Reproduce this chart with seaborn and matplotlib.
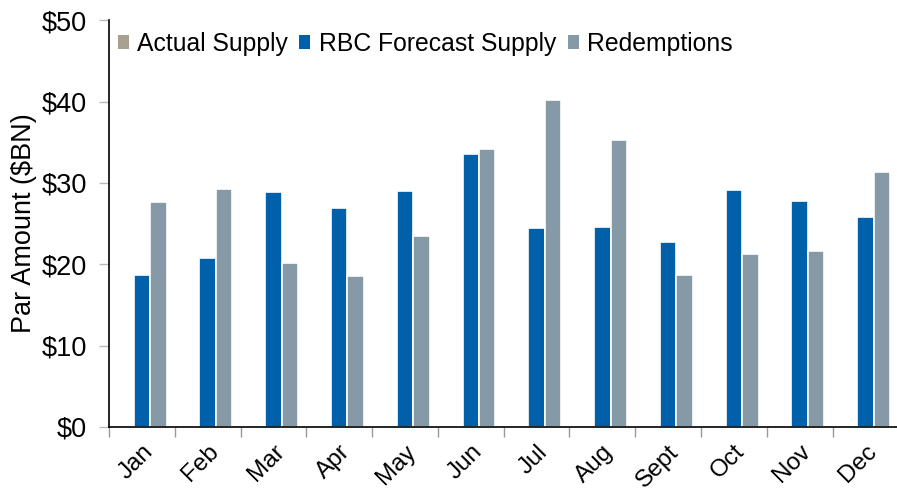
import numpy as np
import pandas as pd
import matplotlib
matplotlib.use("Agg")
import matplotlib.pyplot as plt
import matplotlib.transforms as mtransforms
from matplotlib.patches import Patch
import seaborn as sns

months = ['Jan', 'Feb', 'Mar', 'Apr', 'May', 'Jun', 'Jul', 'Aug', 'Sept', 'Oct', 'Nov', 'Dec']
actual_supply = [0, 0, 0, 0, 0, 0, 0, 0, 0, 0, 0, 0]
rbc_forecast = [18.7, 20.8, 28.9, 26.9, 29.0, 33.6, 24.4, 24.6, 22.7, 29.1, 27.8, 25.8]
redemptions = [27.6, 29.3, 20.2, 18.6, 23.5, 34.2, 40.2, 35.3, 18.7, 21.3, 21.6, 31.3]
series_names = ['Actual Supply', 'RBC Forecast Supply', 'Redemptions']
colors = ['#A8A091', '#0060AA', '#8599A6']

df = pd.DataFrame({
    'month': months * 3,
    'series': np.repeat(series_names, len(months)),
    'amount': actual_supply + rbc_forecast + redemptions,
})

sns.set_style("white")
plt.rcParams['font.family'] = ['Liberation Sans', 'DejaVu Sans']
plt.rcParams['text.color'] = 'black'
plt.rcParams['axes.labelcolor'] = 'black'

fig = plt.figure(figsize=(8.97, 4.93), dpi=100)
ax = fig.add_axes([0.1215, 0.134, 0.88, 0.825])

sns.barplot(data=df, x='month', y='amount', hue='series', order=months,
            hue_order=series_names, palette=colors, width=0.75, saturation=1,
            edgecolor='white', linewidth=1.2, errorbar=None, ax=ax, legend=False)

ax.set_ylim(0, 50)
ax.set_xlim(-0.5, 11.5)
ax.set_yticks(range(0, 51, 10))
ax.set_yticklabels(['$%d' % v for v in range(0, 51, 10)], fontsize=19.5)
ax.set_xticks(range(len(months)))
ax.set_xticklabels(months, fontsize=17.5, rotation=45, ha='right', va='top',
                   rotation_mode='anchor')
# small sideways nudge of the month labels
shift = mtransforms.ScaledTranslation(-1 / 100, 0, fig.dpi_scale_trans)
for lab in ax.get_xticklabels():
    lab.set_transform(lab.get_transform() + shift)
ax.set_xticks(np.arange(-0.5, 12, 1), minor=True)
ax.tick_params(axis='x', which='major', bottom=False, labelcolor='black', pad=6.5)
ax.tick_params(axis='x', which='minor', bottom=True, length=7, color='#999999',
               width=1, direction='out')
ax.tick_params(axis='y', left=True, length=7, color='#BBBBBB', width=1,
               direction='out', pad=9, labelcolor='black')
ax.set_xlabel('')
ax.set_ylabel('Par Amount ($BN)', fontsize=19.5, labelpad=3)

for side in ['top', 'right']:
    ax.spines[side].set_visible(False)
for side in ['left', 'bottom']:
    ax.spines[side].set_color('black')
    ax.spines[side].set_linewidth(1.2)

handles = [Patch(facecolor=c, edgecolor='none') for c in colors]
ax.legend(handles, series_names, loc='upper left', bbox_to_anchor=(-0.008, 1.008),
          ncol=3, frameon=False, fontsize=17.8, handlelength=0.45, handleheight=0.45,
          handletextpad=0.35, columnspacing=0.45, borderaxespad=0.2)

fig.savefig("out.png", dpi=100)
